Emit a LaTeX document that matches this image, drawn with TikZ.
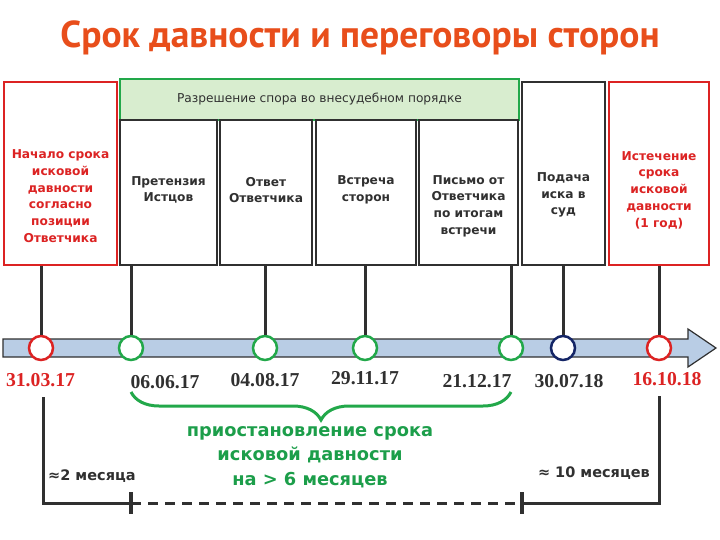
\documentclass[tikz,border=0pt]{standalone}
\usepackage{fontspec}
\setmainfont{DejaVu Sans}
\newfontfamily\headfont{PT Sans}
\newfontfamily\datefont{Liberation Serif}
\usetikzlibrary{positioning,decorations.pathreplacing}
\definecolor{darkline}{HTML}{303030}
\definecolor{redline}{HTML}{DC2323}
\definecolor{greenline}{HTML}{22A84A}
\definecolor{greenfill}{HTML}{D8EDCF}
\definecolor{headred}{HTML}{E84E1B}
\definecolor{axisfill}{HTML}{B9CDE5}
\definecolor{navyline}{HTML}{142566}
\definecolor{greentext}{HTML}{1C9E4A}
\begin{document}
\begin{tikzpicture}[x=1pt,y=-1pt,
  every node/.style={inner sep=0pt},
  stagebox/.style={draw=darkline,line width=2.4pt,fill=white,minimum height=145pt},
  endbox/.style={draw=redline,line width=2.6pt,fill=white,minimum height=183pt},
  boxtext/.style={font=\fontsize{12.2}{16.7}\selectfont\bfseries,align=center,text=darkline},
  dot/.style={circle,draw=#1,line width=2.5pt,fill=white,minimum size=24pt},
  datelabel/.style={font=\datefont\fontsize{19.7}{22}\selectfont\bfseries,text=darkline},
  stem/.style={draw=darkline,line width=3pt},
  span/.style={font=\fontsize{14.5}{16}\selectfont\bfseries,text=darkline}]
\useasboundingbox (0,0) rectangle (720,540);
\node[font=\headfont\fontsize{37.5}{40}\selectfont\bfseries,text=headred] (head) at (360,38) {Срок давности и переговоры сторон};

\draw[draw=darkline,line width=1.2pt,fill=axisfill] (3,339) -- (688,339) -- (688,329) -- (716,348) -- (688,367) -- (688,357) -- (3,357) -- cycle;

\node[endbox,minimum width=113pt] (start) at (60.5,173.5) {};
\node[draw=greenline,line width=2.6pt,fill=greenfill,minimum width=399pt,minimum height=41pt] (talks) at (319.5,99.5) {};
\node[stagebox,minimum width=97pt] (claim) at (168.5,192.5) {};
\node[stagebox,minimum width=92pt] (reply) at (266,192.5) {};
\node[stagebox,minimum width=100pt] (meet) at (366,192.5) {};
\node[stagebox,minimum width=99pt] (letter) at (468.5,192.5) {};
\node[stagebox,minimum width=83pt,minimum height=183pt] (suit) at (563.5,173.5) {};
\node[endbox,minimum width=100pt] (expiry) at (659,173.5) {};

\node[font=\fontsize{12.2}{14}\selectfont,text=darkline] (talkstext) at (talks) {Разрешение спора во внесудебном порядке};
\node[boxtext,text=redline] (starttext) at (60.5,196) {Начало срока\\исковой\\давности\\согласно\\позиции\\Ответчика};
\node[boxtext] (claimtext) at (168.5,190) {Претензия\\Истцов};
\node[boxtext] (replytext) at (266,190) {Ответ\\Ответчика};
\node[boxtext] (meettext) at (366,190) {Встреча\\сторон};
\node[boxtext] (lettertext) at (468.5,206) {Письмо от\\Ответчика\\по итогам\\встречи};
\node[boxtext] (suittext) at (563.5,195) {Подача\\иска в\\суд};
\node[boxtext,text=redline] (expirytext) at (659,190) {Истечение\\срока\\исковой\\давности\\(1 год)};

\node[dot=redline] (d1) at (41,348) {};
\node[dot=greenline] (d2) at (131,348) {};
\node[dot=greenline] (d3) at (265,348) {};
\node[dot=greenline] (d4) at (365,348) {};
\node[dot=greenline] (d5) at (511,348) {};
\node[dot=navyline] (d6) at (563,348) {};
\node[dot=redline] (d7) at (659,348) {};

\draw[stem] (d1.north) -- (d1.north |- start.south);
\draw[stem] (d2.north) -- (d2.north |- claim.south);
\draw[stem] (d3.north) -- (d3.north |- reply.south);
\draw[stem] (d4.north) -- (d4.north |- meet.south);
\draw[stem] (d5.north) -- (d5.north |- letter.south);
\draw[stem] (d6.north) -- (d6.north |- suit.south);
\draw[stem] (d7.north) -- (d7.north |- expiry.south);

\node[datelabel,text=redline] (l1) at (40.5,380) {31.03.17};
\node[datelabel] (l2) at (165,382) {06.06.17};
\node[datelabel] (l3) at (265,380) {04.08.17};
\node[datelabel] (l4) at (365,378) {29.11.17};
\node[datelabel] (l5) at (477,381) {21.12.17};
\node[datelabel] (l6) at (569,381) {30.07.18};
\node[datelabel,text=redline] (l7) at (667,379) {16.10.18};

\draw[greenline,line width=3pt,decorate,decoration={brace,mirror,amplitude=28pt}] (d2 |- 0,392) -- (d5 |- 0,392);
\node[font=\fontsize{17.8}{24.5}\selectfont\bfseries,text=greentext,align=center] (pause) at (310,457) {приостановление срока\\исковой давности\\на > 6 месяцев};

\coordinate (a1) at (43,397);
\coordinate (a2) at (659,396);
\coordinate (m1) at (131,503);
\coordinate (m2) at (522,503);
\draw[stem] (a1) |- (m1);
\draw[stem,dash pattern=on 10pt off 7pt] (m1) -- (m2);
\draw[stem] (m2) -| (a2);
\draw[stem,line width=4pt] (m1) ++(0,-11) -- ++(0,22);
\draw[stem,line width=4pt] (m2) ++(0,-11) -- ++(0,22);
\node[span,anchor=west] (left) at (48,476) {≈2 месяца};
\node[span,anchor=east] (right) at (650,473) {≈ 10 месяцев};
\end{tikzpicture}
\end{document}
